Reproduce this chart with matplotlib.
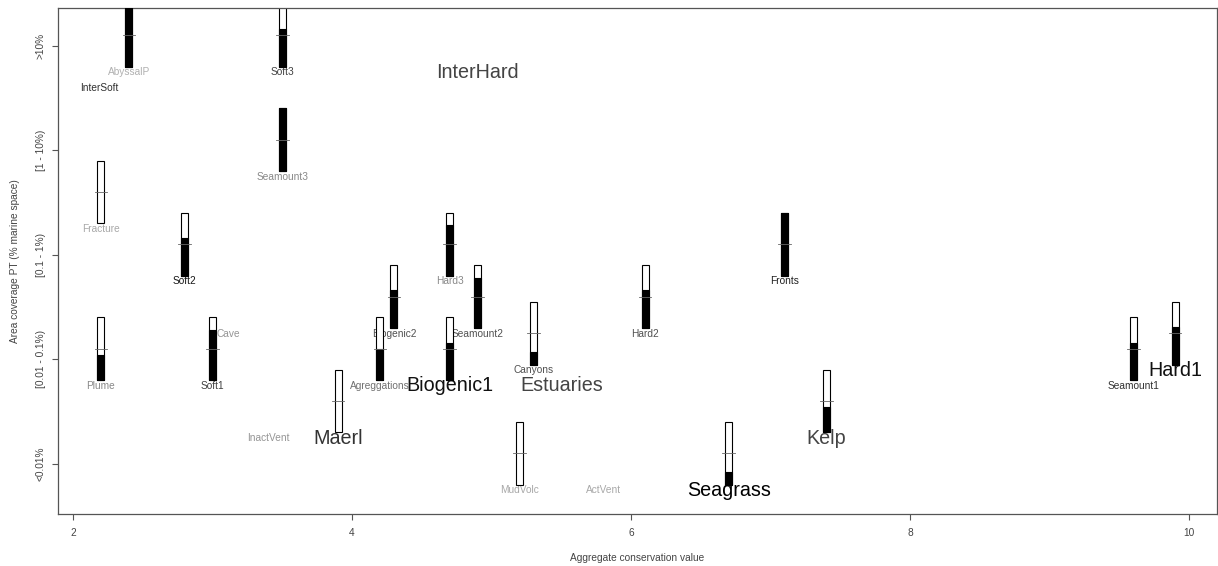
import numpy as np
import matplotlib
matplotlib.use("Agg")
import matplotlib.pyplot as plt

plt.rcParams['font.family'] = ['Liberation Sans', 'DejaVu Sans']

# ---- data ----
names = ["AbyssalP", "InterSoft", "Soft3", "Seamount3", "Fracture", "Soft2",
         "InterHard", "Hard3", "Fronts", "Plume", "Cave", "Soft1", "InactVent",
         "Maerl", "Agreggations", "Biogenic2", "Biogenic1", "Seamount2",
         "Canyons", "Estuaries", "Hard2", "MudVolc", "ActVent", "Seagrass",
         "Kelp", "Seamount1", "Hard1"]
conservation = [2.4, 2.19, 3.5, 3.5, 2.2, 2.8,
                4.9, 4.7, 7.1, 2.2, 3.115, 3.0, 3.4,
                3.9, 4.2, 4.3, 4.7, 4.9,
                5.3, 5.5, 6.1, 5.2, 5.8, 6.7,
                7.4, 9.6, 9.9]
coverage = [5.1, 4.95, 5.1, 4.1, 3.6, 3.1,
            5.1, 3.1, 3.1, 2.1, 2.6, 2.1, 1.6,
            1.6, 2.1, 2.6, 2.1, 2.6,
            2.25, 2.1, 2.6, 1.1, 1.1, 1.1,
            1.6, 2.1, 2.25]
fill = [1.0, np.nan, 0.6, 1.0, 0.0, 0.6,
        np.nan, 0.8, 1.0, 0.4, np.nan, 0.8, np.nan,
        0.0, 0.5, 0.6, 0.6, 0.8,
        0.2, np.nan, 0.6, 0.0, np.nan, 0.2,
        0.4, 0.6, 0.6]
big = {"InterHard", "Maerl", "Biogenic1", "Estuaries", "Seagrass", "Kelp", "Hard1"}
label_colors = ["#b0b0b0", "#303030", "#404040", "#888888", "#a8a8a8", "#181818",
                "#444444", "#888888", "#202020", "#888888", "#959595", "#404040", "#959595",
                "#333333", "#707070", "#505050", "#111111", "#505050",
                "#505050", "#444444", "#505050", "#a8a8a8", "#a8a8a8", "#000000",
                "#444444", "#303030", "#111111"]
ytick_pos = [1, 2, 3, 4, 5]
ytick_labels = ["<0.01%", "[0.01 - 0.1%)", "[0.1 - 1%)", "[1 - 10%)", ">10%"]
xtick_pos = [2, 4, 6, 8, 10]

# ---- figure ----
fig = plt.figure(figsize=(12.18, 5.66), dpi=100)
ax = fig.add_axes([58/1218, 52/566, (1217-58)/1218, (514-8)/566])
ax.set_xlim(1.892, 10.2)
ax.set_ylim(0.52, 5.36)

bw = 0.05
bh = 0.6
for x, y, f in zip(conservation, coverage, fill):
    if np.isnan(f):
        continue
    ax.bar(x, bh, bottom=y - bh/2, width=bw, facecolor="white",
           edgecolor="black", linewidth=0.8, zorder=2)
    if f > 0:
        ax.bar(x, bh*f, bottom=y - bh/2, width=bw, facecolor="black",
               edgecolor="black", linewidth=0.8, zorder=3)
    ax.plot([x - 0.045, x + 0.045], [y, y], color="#666666", lw=0.6, zorder=4)

for n, x, y, c in zip(names, conservation, coverage, label_colors):
    ax.text(x, y - 0.355, n, ha="center", va="center",
            fontsize=14.2 if n in big else 7.3, color=c, zorder=1.5)

ax.set_xticks(xtick_pos)
ax.set_xticklabels([str(v) for v in xtick_pos])
ax.set_yticks(ytick_pos)
ax.set_yticklabels(ytick_labels, rotation=90, va="center")
ax.tick_params(axis="both", direction="out", length=4, width=0.8,
               colors="#555555", labelsize=7.3, labelcolor="#444444")
ax.tick_params(axis="x", pad=6)
ax.tick_params(axis="y", pad=5)
for s in ax.spines.values():
    s.set_color("#555555")
    s.set_linewidth(0.9)

fig.text(637.5/1218, 1 - 557.7/566, "Aggregate conservation value",
         ha="center", va="center", fontsize=7.3, color="#444444")
fig.text(15.5/1218, 1 - 261/566, "Area coverage PT (% marine space)",
         ha="center", va="center", rotation=90, fontsize=7.3, color="#444444")

fig.savefig("out.png", dpi=100)
